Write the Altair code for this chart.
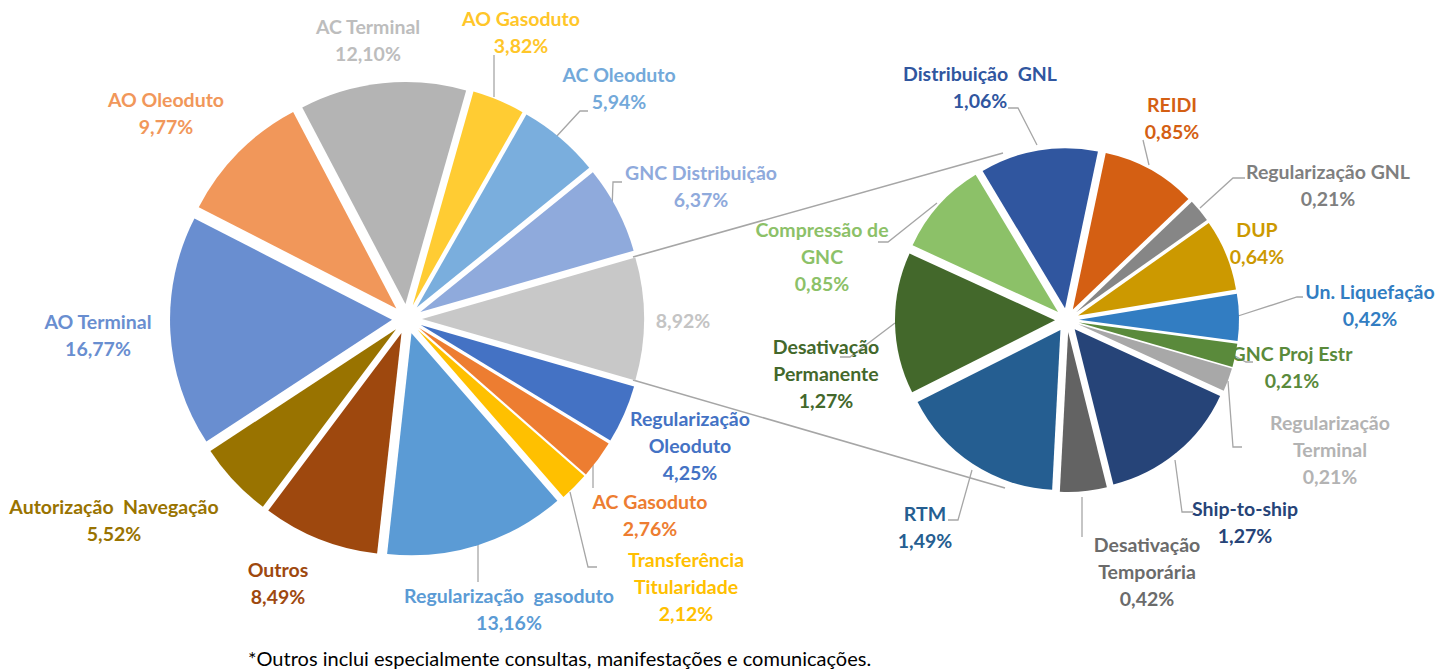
import math
import altair as alt
import pandas as pd

# ---------------- data ----------------
left_categories = [
    "AC Terminal", "AO Gasoduto", "AC Oleoduto", "GNC Distribuição", "Demais",
    "Regularização Oleoduto", "AC Gasoduto", "Transferência Titularidade",
    "Regularização  gasoduto", "Outros", "Autorização Navegação",
    "AO Terminal", "AO Oleoduto",
]
left_values = [12.10, 3.82, 5.94, 6.37, 8.92, 4.25, 2.76, 2.12, 13.16, 8.49, 5.52, 16.77, 9.77]
left_label_names = [
    "AC Terminal", "AO Gasoduto", "AC Oleoduto", "GNC Distribuição", "",
    "Regularização\nOleoduto", "AC Gasoduto", "Transferência\nTitularidade",
    "Regularização\u00a0 gasoduto", "Outros", "Autorização\u00a0 Navegação",
    "AO Terminal", "AO Oleoduto",
]

right_categories = [
    "Distribuição GNL", "REIDI", "Regularização GNL", "DUP", "Un. Liquefação",
    "GNC Proj Estr", "Regularização Terminal", "Ship-to-ship",
    "Desativação Temporária", "RTM", "Desativação Permanente", "Compressão de GNC",
]
right_values = [1.06, 0.85, 0.21, 0.64, 0.42, 0.21, 0.21, 1.27, 0.42, 1.49, 1.27, 0.85]
right_label_names = [
    "Distribuição\u00a0 GNL", "REIDI", "Regularização GNL", "DUP", "Un. Liquefação",
    "GNC Proj Estr", "Regularização\nTerminal", "Ship-to-ship",
    "Desativação\nTemporária", "RTM", "Desativação\nPermanente", "Compressão de\nGNC",
]

footnote = "*Outros inclui especialmente consultas, manifestações e comunicações."

# ---------------- styles ----------------
left_colors = ["#B4B4B4", "#FFCC33", "#7AAEDD", "#8FAADC", "#C8C8C8", "#4472C4", "#ED7D31",
               "#FFC000", "#5B9BD5", "#9E480E", "#997300", "#698ED0", "#F1975A"]
left_text_colors = ["#BDBDBD", "#FFC629", "#73A9DA", "#8FAADC", "#C4C4C4", "#4472C4", "#ED7D31",
                    "#FFC000", "#5B9BD5", "#9E480E", "#997300", "#698ED0", "#F1975A"]
right_colors = ["#30569F", "#D45F13", "#868686", "#CC9900", "#327DC2", "#5A8A3B", "#A8A8A8",
                "#264478", "#636363", "#255E91", "#43682B", "#8CC168"]
right_text_colors = ["#30569F", "#D45F13", "#7F7F7F", "#CC9900", "#327DC2", "#5A8A3B", "#B3B3B3",
                     "#264478", "#6B6B6B", "#255E91", "#43682B", "#8CC168"]

OFF = 8  # page margin: layout numbers below are in page pixels
FONT = "Lato"
FS = 19.5
LEADER = "#A6A6A6"

# pie geometry (page px / degrees)
LEFT_CX, LEFT_CY, LEFT_R, LEFT_D, LEFT_A0 = 407, 319, 222, 15, -27.7
RIGHT_CX, RIGHT_CY, RIGHT_R, RIGHT_D, RIGHT_A0 = 1067, 320, 160, 12, -31.0

# label layout (page px, centre x and first-line y of each text block)
left_label_x = [368, 521, 619, 701, 683, 690, 650, 686, 509, 278, 114, 98, 166]
left_label_y = [28, 20, 76, 174, 322, 420, 503, 561, 597, 571, 508, 323, 101]
right_label_x = [980, 1172, 1328, 1257, 1370, 1292, 1330, 1245, 1147, 925, 826, 822]
right_label_y = [75, 106, 173, 231, 293, 355, 424, 510, 546, 515, 348, 231]

leader_paths = [
    [(494, 55), (494, 97)],
    [(588, 111), (580, 111), (556, 137)],
    [(622, 182), (613, 182), (612, 210)],
    [(593, 465), (593, 488)],
    [(597, 567), (588, 567), (570, 492)],
    [(478, 538), (478, 582)],
    [(1008, 108), (1018, 108), (1037, 145)],
    [(1143, 140), (1149, 165)],
    [(1245, 178), (1233, 178), (1200, 208)],
    [(1303, 297), (1297, 297), (1238, 316)],
    [(1253, 362), (1246, 362), (1235, 356)],
    [(1242, 447), (1233, 447), (1228, 381)],
    [(1193, 512), (1182, 512), (1175, 460)],
    [(1082, 497), (1082, 537)],
    [(948, 520), (958, 520), (972, 470)],
    [(840, 357), (850, 357), (895, 323)],
    [(878, 242), (888, 242), (937, 203)],
]
connectors = [[(633, 257), (1003, 153)], [(633, 380), (1005, 488)]]


def pct(v):
    return f"{v:.2f}".replace(".", ",") + "%"


def pie_layer(cats, vals, cols, cx, cy, R, d, a0_deg):
    total = sum(vals)
    a0 = math.radians(a0_deg)
    df = pd.DataFrame({"idx": range(len(cats)), "cat": cats, "value": vals, "col": cols})
    base = (
        alt.Chart(df)
        .transform_window(cum="sum(value)", sort=[alt.SortField("idx")], frame=[None, 0])
        .transform_calculate(
            t0="datum.cum - datum.value",
            ang=f"{a0} + (datum.cum - datum.value / 2) / {total} * 2 * PI",
        )
        .transform_calculate(
            px=f"{cx - OFF} + {d} * sin(datum.ang)",
            py=f"{cy - OFF} - {d} * cos(datum.ang)",
        )
    )
    return base.mark_arc(outerRadius=R, innerRadius=0, stroke=None).encode(
        theta=alt.Theta("t0:Q", scale=alt.Scale(domain=[0, total], range=[a0, a0 + 2 * math.pi])),
        theta2="cum:Q",
        x=alt.X("px:Q", scale=None),
        y=alt.Y("py:Q", scale=None),
        color=alt.Color("col:N", scale=None),
        tooltip=["cat:N", "value:Q"],
    )


left_arcs = pie_layer(left_categories, left_values, left_colors,
                      LEFT_CX, LEFT_CY, LEFT_R, LEFT_D, LEFT_A0)
right_arcs = pie_layer(right_categories, right_values, right_colors,
                       RIGHT_CX, RIGHT_CY, RIGHT_R, RIGHT_D, RIGHT_A0)

# labels
lab_rows = []
for n, v, c, x, y in zip(left_label_names, left_values, left_text_colors, left_label_x, left_label_y):
    lab_rows.append({"txt": (n + "\n" if n else "") + pct(v), "col": c, "lx": x - OFF, "ly": y - OFF})
for n, v, c, x, y in zip(right_label_names, right_values, right_text_colors, right_label_x, right_label_y):
    lab_rows.append({"txt": n + "\n" + pct(v), "col": c, "lx": x - OFF, "ly": y - OFF})
labels = alt.Chart(pd.DataFrame(lab_rows)).mark_text(
    font=FONT, fontSize=FS, fontWeight="bold", align="center", baseline="middle",
    lineBreak="\n", lineHeight=27,
).encode(
    x=alt.X("lx:Q", scale=None), y=alt.Y("ly:Q", scale=None),
    text="txt:N", color=alt.Color("col:N", scale=None),
)

# leader lines
lead_rows = []
for g, path in enumerate(leader_paths):
    for s, (x, y) in enumerate(path):
        lead_rows.append({"g": g, "s": s, "x": x - OFF, "y": y - OFF})
leaders = alt.Chart(pd.DataFrame(lead_rows)).mark_line(color=LEADER, strokeWidth=1.3).encode(
    x=alt.X("x:Q", scale=None), y=alt.Y("y:Q", scale=None),
    detail="g:N", order="s:Q",
)

conn_df = pd.DataFrame([{"x": a[0] - OFF, "y": a[1] - OFF, "x2": b[0] - OFF, "y2": b[1] - OFF}
                        for a, b in connectors])
conn = alt.Chart(conn_df).mark_rule(color=LEADER, strokeWidth=1.6).encode(
    x=alt.X("x:Q", scale=None), y=alt.Y("y:Q", scale=None), x2="x2:Q", y2="y2:Q",
)

foot = alt.Chart(pd.DataFrame({"t": [footnote]})).mark_text(
    font=FONT, fontSize=20, align="left", baseline="middle", color="#000000",
).encode(
    x=alt.value(248 - OFF), y=alt.value(660 - OFF), text="t:N",
)

chart = (
    alt.layer(conn, leaders, left_arcs, right_arcs, labels, foot)
    .resolve_scale(theta="independent")
    .properties(width=1438, height=655, padding=0, background="white")
    .configure_view(stroke=None)
)

chart.save("out.html", embed_options={"renderer": "svg", "actions": False})
